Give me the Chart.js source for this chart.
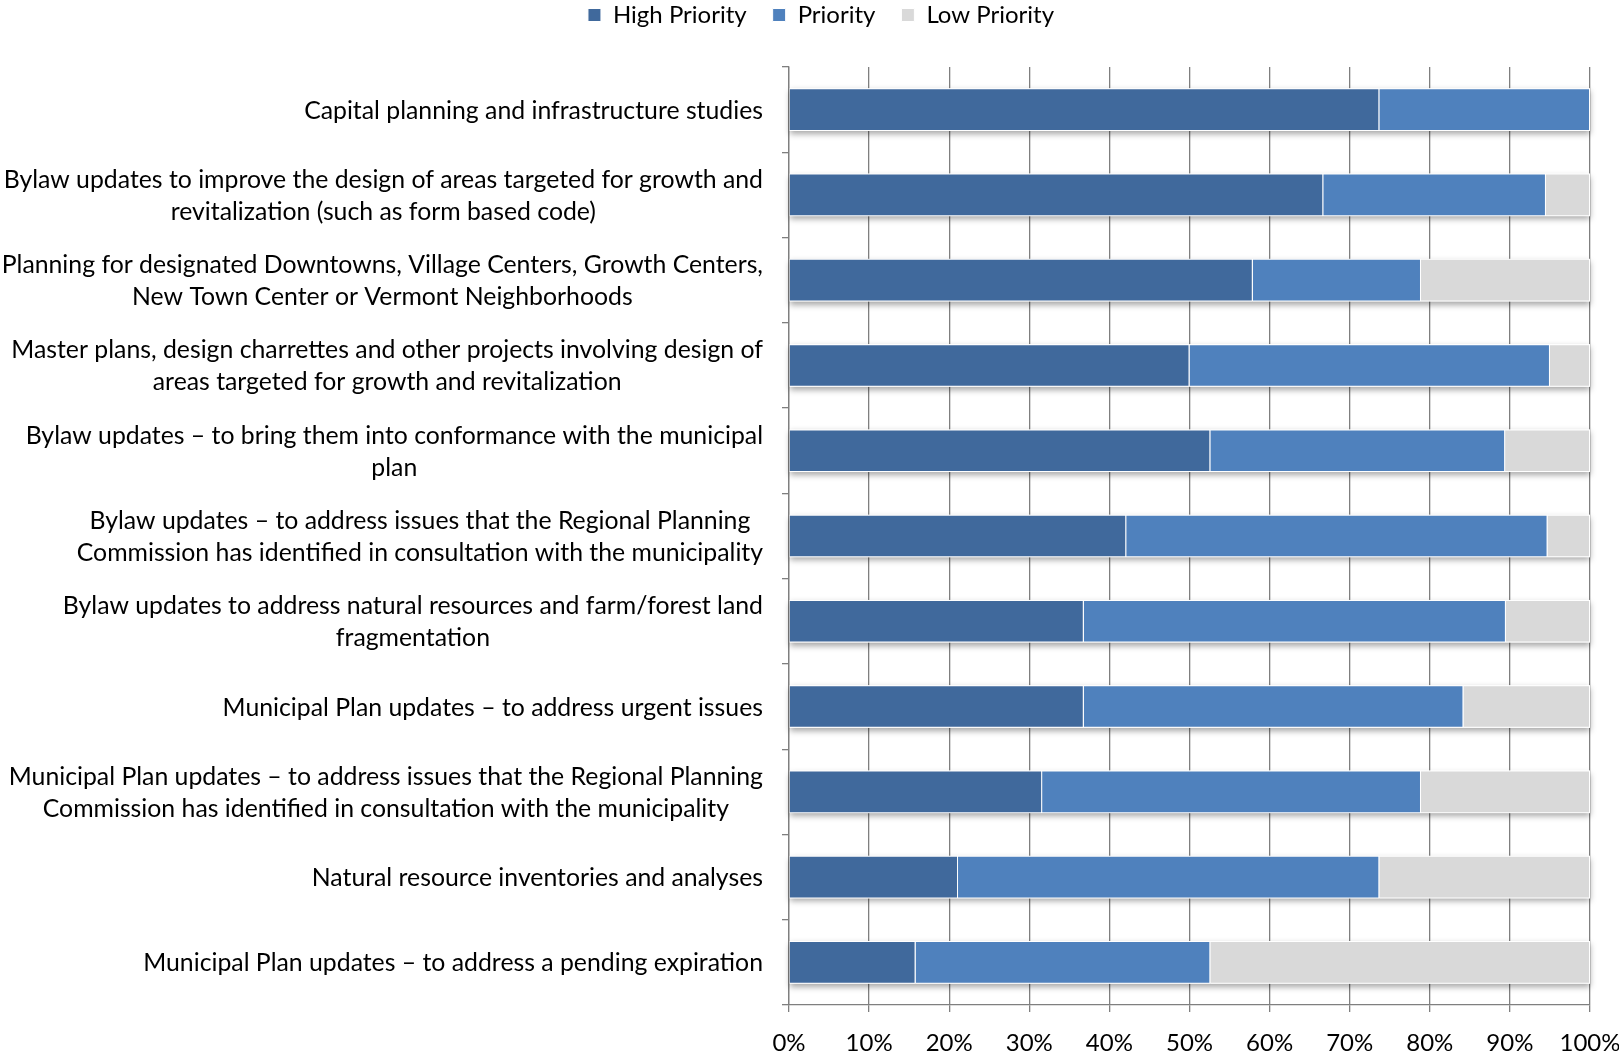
<!DOCTYPE html>
<html>
<head>
<meta charset="utf-8">
<script src="https://cdn.jsdelivr.net/npm/chart.js@4/dist/chart.umd.min.js"></script>
<style>
  body { margin: 0; background: #fff; }
  #wrap { width: 1619px; height: 1052px; position: relative; }
</style>
</head>
<body>
<div id="wrap"><canvas id="PriorityChart"></canvas></div>
<script>
const categories = [
  ['Capital planning and infrastructure studies'],
  ['Bylaw updates to improve the design of areas targeted for growth and', 'revitalization (such as form based code)'],
  ['Planning for designated Downtowns, Village Centers, Growth Centers,', 'New Town Center or Vermont Neighborhoods'],
  ['Master plans, design charrettes and other projects involving design of', 'areas targeted for growth and revitalization'],
  ['Bylaw updates \u2013 to bring them into conformance with the municipal', 'plan'],
  ['Bylaw updates \u2013 to address issues that the Regional Planning', 'Commission has identified in consultation with the municipality'],
  ['Bylaw updates to address natural resources and farm/forest land', 'fragmentation'],
  ['Municipal Plan updates \u2013 to address urgent issues'],
  ['Municipal Plan updates \u2013 to address issues that the Regional Planning', 'Commission has identified in consultation with the municipality'],
  ['Natural resource inventories and analyses'],
  ['Municipal Plan updates \u2013 to address a pending expiration']
];

const highPriority = [73.7, 66.7, 57.9, 50.0, 52.6, 42.1, 36.8, 36.8, 31.6, 21.1, 15.8];
const priority = [26.3, 27.8, 21.0, 45.0, 36.8, 52.6, 52.7, 47.4, 47.3, 52.6, 36.8];
const lowPriority = [0.0, 5.5, 21.1, 5.0, 10.6, 5.3, 10.5, 15.8, 21.1, 26.3, 47.4];

const seriesNames = ['High Priority', 'Priority', 'Low Priority'];
const seriesColors = ['#40699C', '#4F81BD', '#D9D9D9'];

const FONT = 'Lato, "Open Sans", sans-serif';
const GRID = '#7F7F7F';

// soft shadow under each whole bar, like the Excel original
const barShadow = {
  id: 'barShadow',
  beforeDatasetsDraw: function (chart) {
    const ctx = chart.ctx;
    const first = chart.getDatasetMeta(0).data;
    const last = chart.getDatasetMeta(chart.data.datasets.length - 1).data;
    ctx.save();
    ctx.shadowColor = 'rgba(0, 0, 0, 0.35)';
    ctx.shadowBlur = 6;
    ctx.shadowOffsetY = 3;
    ctx.fillStyle = '#fff';
    first.forEach((bar, i) => {
      const end = last[i];
      ctx.fillRect(bar.base, bar.y - bar.height / 2, end.x - bar.base, bar.height);
    });
    ctx.restore();
  }
};

// category labels: block right aligned to the axis, lines centred inside it
const categoryLabels = {
  id: 'categoryLabels',
  afterDraw: function (chart) {
    const ctx = chart.ctx;
    const yScale = chart.scales.y;
    const rightEdge = yScale.right - 26;
    const lineHeight = 32;
    ctx.save();
    ctx.font = '24.8px ' + FONT;
    ctx.fillStyle = '#000';
    ctx.textAlign = 'center';
    ctx.textBaseline = 'middle';
    categories.forEach((lines, i) => {
      const y = yScale.getPixelForValue(i) + 1;
      let widest = 0;
      lines.forEach(line => {
        widest = Math.max(widest, ctx.measureText(line).width);
      });
      const cx = rightEdge - widest / 2;
      lines.forEach((line, k) => {
        ctx.fillText(line, cx, y + (k - (lines.length - 1) / 2) * lineHeight);
      });
    });
    ctx.restore();
  }
};

// legend sits at the very top, a bit right of centre
const legendMove = {
  id: 'legendMove',
  afterLayout: function (chart) {
    chart.legend.top -= 30;
    chart.legend.bottom -= 30;
    chart.legend.left += 26;
    chart.legend.right += 26;
  }
};

const data = {
  labels: categories.map(c => c.join(' ')),
  datasets: [
    { label: seriesNames[0], data: highPriority, backgroundColor: seriesColors[0] },
    { label: seriesNames[1], data: priority, backgroundColor: seriesColors[1] },
    { label: seriesNames[2], data: lowPriority, backgroundColor: seriesColors[2] }
  ].map(ds => Object.assign(ds, {
    borderColor: '#fff',
    borderWidth: 1,
    categoryPercentage: 1.0,
    barPercentage: 0.5
  }))
};

const config = {
  type: 'bar',
  data: data,
  options: {
    indexAxis: 'y',
    responsive: true,
    maintainAspectRatio: false,
    animation: false,
    layout: { padding: { top: 7, right: 29, bottom: 0, left: 0 } },
    plugins: {
      tooltip: { enabled: false },
      legend: {
        position: 'top',
        labels: {
          boxWidth: 13,
          boxHeight: 13,
          padding: 26,
          color: '#000',
          font: { family: FONT, size: 24 }
        }
      }
    },
    scales: {
      x: {
        stacked: true,
        min: 0,
        max: 100,
        ticks: {
          stepSize: 10,
          padding: 17,
          color: '#000',
          font: { family: FONT, size: 24 },
          callback: v => v + '%'
        },
        grid: { color: GRID, lineWidth: 1.3, tickLength: 7 },
        border: { color: GRID, width: 1.3 },
        afterFit: function (scale) {
          scale.height = 47;
          scale.paddingLeft = 0;
          scale.paddingRight = 0;
        }
      },
      y: {
        stacked: true,
        ticks: { display: false },
        grid: { color: GRID, lineWidth: 1.3, drawOnChartArea: false, tickLength: 7, offset: true },
        border: { color: GRID, width: 1.3 },
        afterFit: function (scale) { scale.width = 789; }
      }
    }
  },
  plugins: [barShadow, categoryLabels, legendMove]
};

const PriorityChart = new Chart(document.getElementById('PriorityChart'), config);
</script>
</body>
</html>
